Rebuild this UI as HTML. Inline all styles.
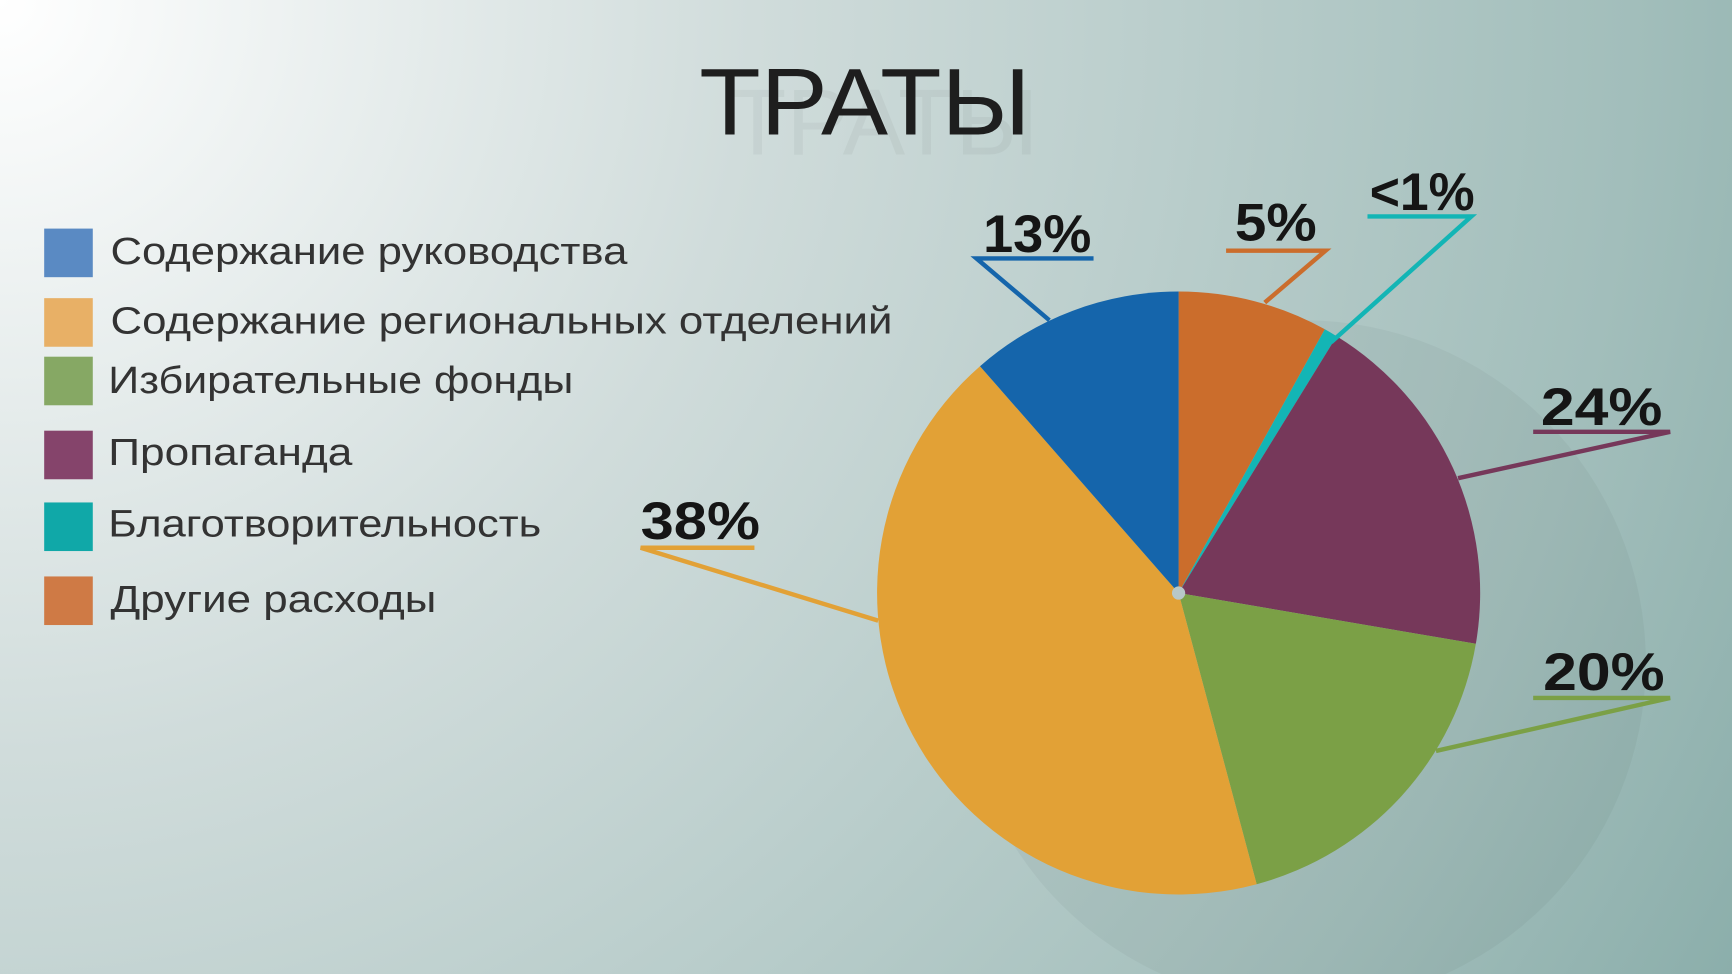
<!DOCTYPE html>
<html><head><meta charset="utf-8"><style>
html,body{margin:0;padding:0;width:1732px;height:974px;overflow:hidden}
svg{display:block}
text{font-family:"Liberation Sans","DejaVu Sans",sans-serif}
</style></head><body>
<svg width="1732" height="974" viewBox="0 0 1568 882" preserveAspectRatio="none">
<defs>
<radialGradient id="bg" cx="0" cy="0" r="1.45" gradientUnits="objectBoundingBox" gradientTransform="scale(1,1.78)">
<stop offset="0" stop-color="#ffffff"/>
<stop offset="0.3" stop-color="#d0dcdb"/>
<stop offset="0.65" stop-color="#a2bebb"/>
<stop offset="1" stop-color="#6a9793"/>
</radialGradient>
</defs>
<rect width="1568" height="882" fill="url(#bg)"/>
<g opacity="0.035" fill="#000">
<text x="660" y="140" font-size="85">ТРАТЫ</text>
<circle cx="1180" cy="600" r="310"/>
</g>
<text x="633" y="122" font-size="86" textLength="300" lengthAdjust="spacingAndGlyphs" fill="#1e1e1e">ТРАТЫ</text>
<g font-size="34" fill="#333">
<rect x="40" y="207" width="44" height="44" fill="#5a8ac3"/><text x="100" y="239" textLength="468" lengthAdjust="spacingAndGlyphs">Содержание руководства</text>
<rect x="40" y="270" width="44" height="44" fill="#e8b066"/><text x="100" y="302" textLength="708" lengthAdjust="spacingAndGlyphs">Содержание региональных отделений</text>
<rect x="40" y="323" width="44" height="44" fill="#86a864"/><text x="98" y="356" textLength="421" lengthAdjust="spacingAndGlyphs">Избирательные фонды</text>
<rect x="40" y="390" width="44" height="44" fill="#85446b"/><text x="98" y="421" textLength="221" lengthAdjust="spacingAndGlyphs">Пропаганда</text>
<rect x="40" y="455" width="44" height="44" fill="#10a8a8"/><text x="98" y="486" textLength="392" lengthAdjust="spacingAndGlyphs">Благотворительность</text>
<rect x="40" y="522" width="44" height="44" fill="#cf7a45"/><text x="100" y="554" textLength="295" lengthAdjust="spacingAndGlyphs">Другие расходы</text>
</g>
<g>
<path d="M1067,537 L1067,264 A273,273 0 0 1 1199.4,298.2 Z" fill="#cb6d2c"/>
<path d="M1067,537 L1199.4,298.2 A273,273 0 0 1 1210.1,304.5 Z" fill="#13b5b5"/>
<path d="M1067,537 L1210.1,304.5 A273,273 0 0 1 1336.1,583 Z" fill="#76385a"/>
<path d="M1067,537 L1336.1,583 A273,273 0 0 1 1137.7,800.7 Z" fill="#7ba046"/>
<path d="M1067,537 L1137.7,800.7 A273,273 0 0 1 887.2,331.6 Z" fill="#e2a136"/>
<path d="M1067,537 L887.2,331.6 A273,273 0 0 1 1067,264 Z" fill="#1565ab"/>
<circle cx="1067" cy="537" r="6" fill="#b8c8c8"/>
</g>
<g font-size="48" font-weight="bold" fill="#151515">
<text x="890" y="228" textLength="98" lengthAdjust="spacingAndGlyphs">13%</text>
<polyline points="990,234 884,234 950,290" fill="none" stroke="#1565ab" stroke-width="4"/>
<text x="1118" y="218" textLength="74" lengthAdjust="spacingAndGlyphs">5%</text>
<polyline points="1110,227 1200,227 1145,274" fill="none" stroke="#cb6d2c" stroke-width="4"/>
<text x="1240" y="190" textLength="95" lengthAdjust="spacingAndGlyphs">&lt;1%</text>
<polyline points="1238,196 1332,196 1205,310" fill="none" stroke="#13b5b5" stroke-width="4"/>
<text x="1395" y="385" textLength="110" lengthAdjust="spacingAndGlyphs">24%</text>
<polyline points="1388,391 1512,391 1320,433" fill="none" stroke="#76385a" stroke-width="4"/>
<text x="1397" y="625" textLength="110" lengthAdjust="spacingAndGlyphs">20%</text>
<polyline points="1388,632 1512,632 1300,680" fill="none" stroke="#7ba046" stroke-width="4"/>
<text x="580" y="488" textLength="108" lengthAdjust="spacingAndGlyphs">38%</text>
<polyline points="683,496 580,496 795,562" fill="none" stroke="#e2a136" stroke-width="4"/>
</g>
</svg>
</body></html>
